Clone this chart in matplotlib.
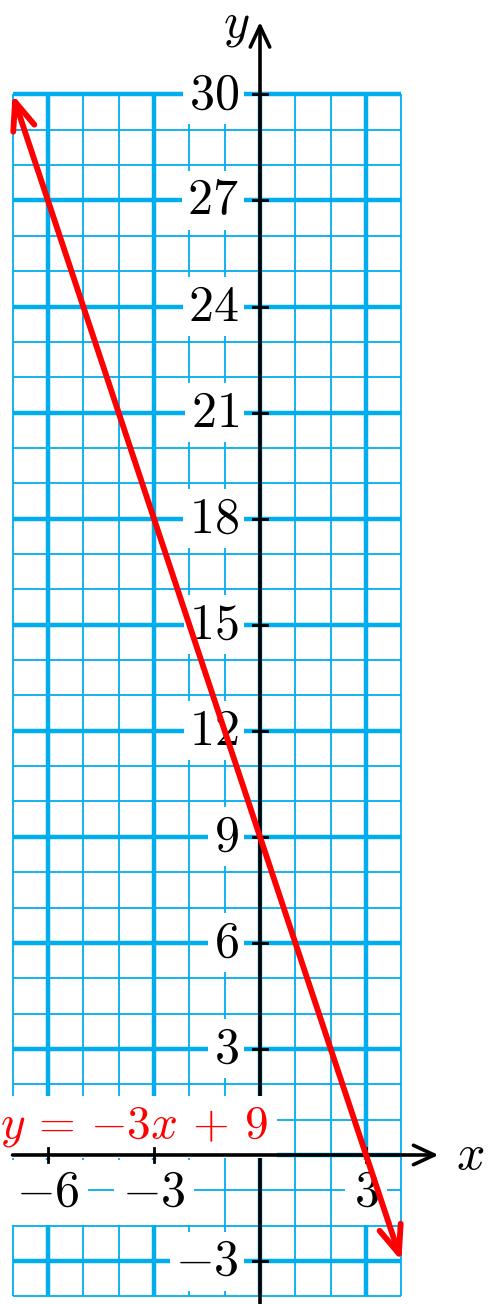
import matplotlib.pyplot as plt

plt.rcParams['mathtext.fontset'] = 'cm'

# grid extent (graph units)
grid_x = [-7, 4]
grid_y = [-4, 30]

# the plotted line y = -3x + 9, end points
line_x = [-7, 4]
line_y = [30, -3]
eq_label = r'$y\,=\,{-}3x\,+\,9$'

# tick labels
ytick_vals = [30, 27, 24, 21, 18, 15, 12, 9, 6, 3, -3]
xtick_vals = [-6, -3, 3]

cyan = '#00AEEF'

fig = plt.figure(figsize=(4.88, 13.04), dpi=100)
ax = fig.add_axes([0, 0, 1, 1])
ax.set_xlim(-7.355, 6.45)
ax.set_ylim(-4.215, 32.67)
ax.axis('off')

# grid: thin every unit, thick every 3 units
for v in range(grid_x[0], grid_x[1] + 1):
    lw = 3.2 if v % 3 == 0 else 1.3
    ax.plot([v, v], grid_y, color=cyan, lw=lw, solid_capstyle='butt', zorder=1)
for v in range(grid_y[0], grid_y[1] + 1):
    lw = 3.2 if v % 3 == 0 else 1.3
    ax.plot(grid_x, [v, v], color=cyan, lw=lw, solid_capstyle='butt', zorder=1)

arrow_k = dict(color='black', shrinkA=0, shrinkB=0, mutation_scale=20, lw=2.6,
               arrowstyle='->,head_length=0.75,head_width=0.35')

# y axis
ax.annotate('', xy=(0, 32.05), xytext=(0, -4.3), arrowprops=arrow_k, zorder=2)
ax.text(-0.68, 31.95, r'$y$', fontsize=36, ha='center', va='center')

# y tick labels and ticks
for v in ytick_vals:
    ax.text(-0.6, v, f'${v}$', fontsize=36, ha='right', va='center',
            bbox=dict(fc='white', ec='none', pad=4), zorder=3)
    ax.plot([-0.2, 0.2], [v, v], color='black', lw=2, zorder=5)

# equation label
ax.text(-3.55, 0.8, eq_label, fontsize=34, color='red', ha='center', va='center',
        bbox=dict(fc='white', ec='none', pad=6), zorder=4)

# x axis
ax.annotate('', xy=(5.05, 0), xytext=(-7, 0), arrowprops=arrow_k, zorder=5)
ax.text(5.95, 0, r'$x$', fontsize=36, ha='center', va='center')

for v in xtick_vals:
    ax.text(v, -1.05, f'${v}$', fontsize=36, ha='center', va='center',
            bbox=dict(fc='white', ec='none', pad=6), zorder=3)
    ax.plot([v, v], [-0.2, 0.2], color='black', lw=2, zorder=5)

# the red line with arrows at both ends
ax.annotate('', xy=(line_x[1], line_y[1]), xytext=(line_x[0], line_y[0]),
            arrowprops=dict(arrowstyle='<->,head_length=1.0,head_width=0.4',
                            lw=4.2, color='red', shrinkA=0, shrinkB=0,
                            mutation_scale=20),
            zorder=7)

fig.savefig('out.png', dpi=100)
